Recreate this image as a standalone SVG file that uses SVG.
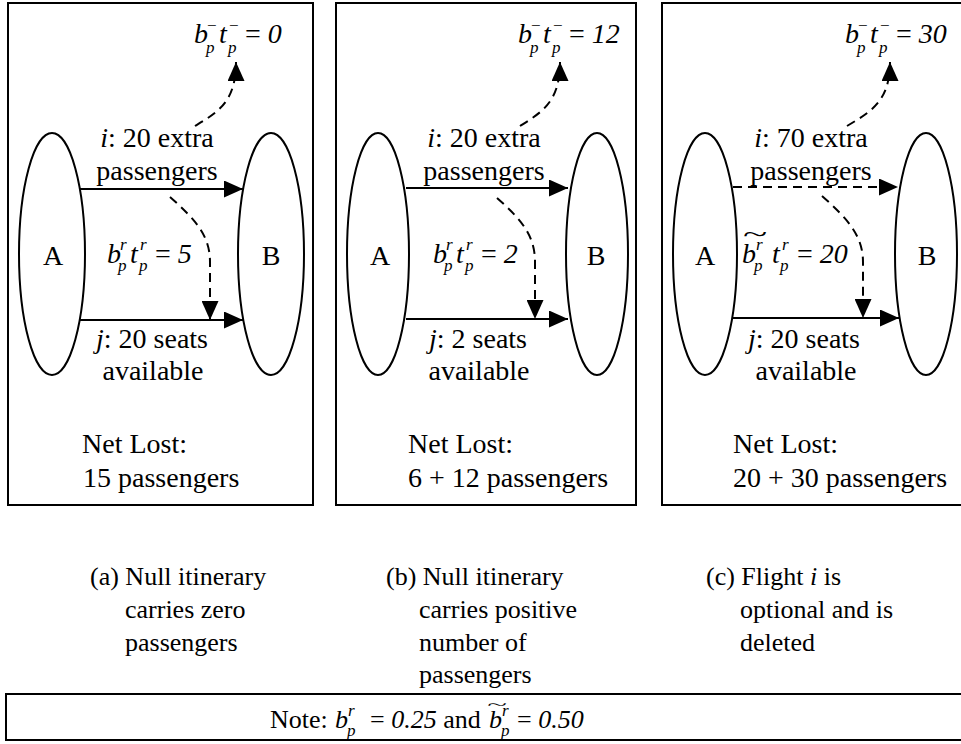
<svg xmlns="http://www.w3.org/2000/svg" width="961" height="744" viewBox="0 0 961 744" font-family="'Liberation Serif', 'Times New Roman', 'DejaVu Serif', serif">
<style>
.box{fill:none;stroke:#000;stroke-width:2}
.ell{fill:none;stroke:#000;stroke-width:2}
.ln{fill:none;stroke:#000;stroke-width:2}
.dash{fill:none;stroke:#000;stroke-width:2;stroke-dasharray:9 6}
text{font-family:'Liberation Serif','Times New Roman','DejaVu Serif',serif;fill:#000}
.t{font-size:28px}
.it{font-style:italic}
.s{font-size:17px;font-style:italic}
.up{font-style:normal}
.c{font-size:26px}
.n{font-size:26px}
.mid{text-anchor:middle}
</style>
<defs>
<marker id="ah" markerUnits="userSpaceOnUse" markerWidth="19" markerHeight="17" refX="19" refY="8.5" orient="auto" viewBox="0 0 19 17"><path d="M0,0L19,8.5L0,17z" fill="#000"/></marker>
</defs>
<rect width="961" height="744" fill="#fff"/>

<!-- Panel a -->
<g id="panel-a">
<rect class="box" x="8" y="3" width="305" height="502"/>
<g id="a-nodeA"><ellipse class="ell" cx="52" cy="254" rx="33" ry="121"/><text class="t mid" x="53" y="265">A</text></g>
<g id="a-nodeB"><ellipse class="ell" cx="271" cy="254" rx="33" ry="121"/><text class="t mid" x="271" y="265">B</text></g>
<g id="a-null"><text class="t it"><tspan x="194" y="43">b</tspan><tspan class="s up" x="207" y="31">−</tspan><tspan class="s" x="206" y="53">p</tspan><tspan x="219" y="43">t</tspan><tspan class="s up" x="229" y="31">−</tspan><tspan class="s" x="228" y="53">p</tspan><tspan class="up" x="245" y="43">= </tspan><tspan>0</tspan></text></g>
<g id="a-i"><text class="t mid" x="157" y="147"><tspan class="it">i</tspan>: 20 extra</text><text class="t mid" x="157" y="180">passengers</text></g>
<g id="a-recap"><text class="t it"><tspan x="107" y="263">b</tspan><tspan class="s" x="120" y="250">r</tspan><tspan class="s" x="118" y="271">p</tspan><tspan x="130" y="263">t</tspan><tspan class="s" x="140" y="250">r</tspan><tspan class="s" x="139" y="271">p</tspan><tspan class="up" x="155" y="263">= </tspan><tspan>5</tspan></text></g>
<g id="a-j"><text class="t mid" x="152" y="348"><tspan class="it">j</tspan>: 20 seats</text><text class="t mid" x="153" y="380">available</text></g>
<g id="a-net"><text class="t" x="82" y="453">Net Lost:</text><text class="t" x="83" y="487">15 passengers</text></g>
</g>

<!-- Panel b -->
<g id="panel-b">
<rect class="box" x="336" y="3" width="300" height="502"/>
<g id="b-nodeA"><ellipse class="ell" cx="378" cy="254" rx="31" ry="121"/><text class="t mid" x="380" y="265">A</text></g>
<g id="b-nodeB"><ellipse class="ell" cx="597" cy="254" rx="31" ry="121"/><text class="t mid" x="596" y="265">B</text></g>
<g id="b-null"><text class="t it"><tspan x="518" y="43">b</tspan><tspan class="s up" x="531" y="31">−</tspan><tspan class="s" x="530" y="53">p</tspan><tspan x="543" y="43">t</tspan><tspan class="s up" x="553" y="31">−</tspan><tspan class="s" x="552" y="53">p</tspan><tspan class="up" x="569" y="43">= </tspan><tspan>12</tspan></text></g>
<g id="b-i"><text class="t mid" x="484" y="147"><tspan class="it">i</tspan>: 20 extra</text><text class="t mid" x="484" y="180">passengers</text></g>
<g id="b-recap"><text class="t it"><tspan x="433" y="263">b</tspan><tspan class="s" x="446" y="250">r</tspan><tspan class="s" x="444" y="271">p</tspan><tspan x="456" y="263">t</tspan><tspan class="s" x="466" y="250">r</tspan><tspan class="s" x="465" y="271">p</tspan><tspan class="up" x="481" y="263">= </tspan><tspan>2</tspan></text></g>
<g id="b-j"><text class="t mid" x="478" y="348"><tspan class="it">j</tspan>: 2 seats</text><text class="t mid" x="479" y="380">available</text></g>
<g id="b-net"><text class="t" x="408" y="453">Net Lost:</text><text class="t" x="408" y="487">6 + 12 passengers</text></g>
</g>

<!-- Panel c -->
<g id="panel-c">
<rect class="box" x="662" y="3" width="310" height="502"/>
<g id="c-nodeA"><ellipse class="ell" cx="705" cy="254" rx="32" ry="121"/><text class="t mid" x="705" y="265">A</text></g>
<g id="c-nodeB"><ellipse class="ell" cx="926" cy="254" rx="31" ry="121"/><text class="t mid" x="927" y="265">B</text></g>
<g id="c-null"><text class="t it"><tspan x="845" y="43">b</tspan><tspan class="s up" x="858" y="31">−</tspan><tspan class="s" x="857" y="53">p</tspan><tspan x="870" y="43">t</tspan><tspan class="s up" x="880" y="31">−</tspan><tspan class="s" x="879" y="53">p</tspan><tspan class="up" x="896" y="43">= </tspan><tspan>30</tspan></text></g>
<g id="c-i"><text class="t mid" x="811" y="147"><tspan class="it">i</tspan>: 70 extra</text><text class="t mid" x="811" y="180">passengers</text></g>
<g id="c-recap"><text class="t" transform="translate(755,242) scale(1.6,0.8)" text-anchor="middle">~</text><text class="t it"><tspan x="742" y="263">b</tspan><tspan class="s" x="756" y="250">r</tspan><tspan class="s" x="754" y="271">p</tspan><tspan x="772" y="263">t</tspan><tspan class="s" x="782" y="250">r</tspan><tspan class="s" x="780" y="271">p</tspan><tspan class="up" x="797" y="263">= </tspan><tspan>20</tspan></text></g>
<g id="c-j"><text class="t mid" x="804" y="348"><tspan class="it">j</tspan>: 20 seats</text><text class="t mid" x="806" y="380">available</text></g>
<g id="c-net"><text class="t" x="733" y="453">Net Lost:</text><text class="t" x="733" y="487">20 + 30 passengers</text></g>
</g>

<g id="connectors">
<path class="ln" d="M80,189H243" marker-end="url(#ah)"/>
<path class="ln" d="M80,320H243" marker-end="url(#ah)"/>
<path class="dash" d="M195,126C218,112 236,102 236,62" marker-end="url(#ah)"/>
<path class="dash" d="M170,197C196,220 210,236 210,262L210,320" marker-end="url(#ah)"/>

<path class="ln" d="M406,188H568" marker-end="url(#ah)"/>
<path class="ln" d="M406,319H568" marker-end="url(#ah)"/>
<path class="dash" d="M520,126C542,112 560,102 560,62" marker-end="url(#ah)"/>
<path class="dash" d="M497,198C522,220 535,236 535,262L535,319" marker-end="url(#ah)"/>

<path class="dash" d="M733,187H898" marker-end="url(#ah)"/>
<path class="ln" d="M733,318H899" marker-end="url(#ah)"/>
<path class="dash" d="M847,126C870,112 890,102 890,62" marker-end="url(#ah)"/>
<path class="dash" d="M822,196C848,219 863,236 863,262L863,318" marker-end="url(#ah)"/>
</g>

<g id="captions">
<text class="c" x="90" y="585">(a) Null itinerary</text>
<text class="c" x="125" y="618">carries zero</text>
<text class="c" x="125" y="651">passengers</text>
<text class="c" x="386" y="585">(b) Null itinerary</text>
<text class="c" x="419" y="618">carries positive</text>
<text class="c" x="419" y="651">number of</text>
<text class="c" x="419" y="683">passengers</text>
<text class="c" x="706" y="585">(c) Flight <tspan class="it">i</tspan> is</text>
<text class="c" x="740" y="618">optional and is</text>
<text class="c" x="740" y="651">deleted</text>
</g>

<g id="note">
<rect class="box" x="6" y="694" width="966" height="46"/>
<text class="n" x="270" y="728">Note:</text>
<text class="n it"><tspan x="335" y="728">b</tspan><tspan class="s" x="348" y="716">r</tspan><tspan class="s" x="347" y="736">p</tspan><tspan class="up" x="370" y="728">= </tspan><tspan>0.25</tspan><tspan class="up"> and </tspan></text>
<text class="n" transform="translate(497,710) scale(1.4,0.6)" text-anchor="middle">~</text>
<text class="n it"><tspan x="489" y="728">b</tspan><tspan class="s" x="502" y="716">r</tspan><tspan class="s" x="501" y="736">p</tspan><tspan class="up" x="517" y="728">= </tspan><tspan>0.50</tspan></text>
</g>
</svg>
